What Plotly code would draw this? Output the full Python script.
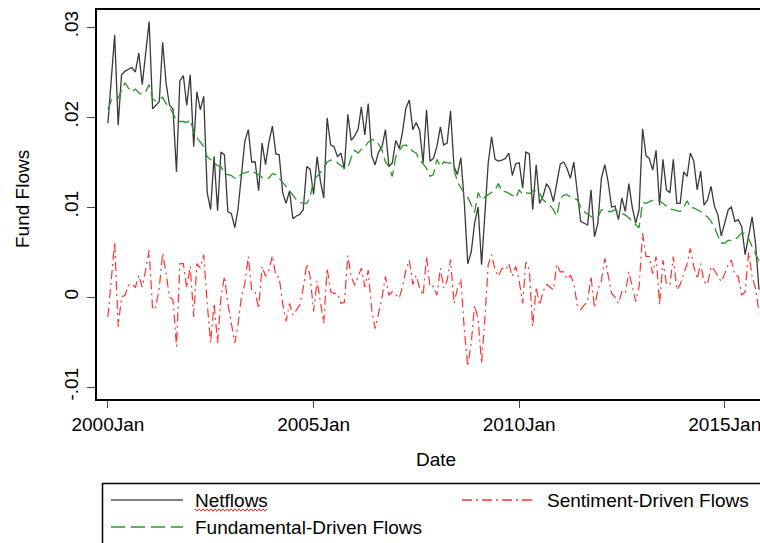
import pandas as pd
import plotly.graph_objects as go

# ---------------- data (monthly, starting 2000Jan) ----------------
netflows = [
    .0193, .0240, .0291, .0191, .0247, .0251, .0253, .0255, .0250, .0271, .0236, .0268,   # 2000
    .0306, .0209, .0213, .0217, .0283, .0237, .0213, .0209, .0139, .0240, .0246, .0213,   # 2001
    .0247, .0167, .0228, .0208, .0223, .0116, .0097, .0156, .0096, .0161, .0158, .0095,   # 2002
    .0093, .0077, .0097, .0140, .0173, .0186, .0150, .0150, .0118, .0171, .0147, .0172,   # 2003
    .0190, .0159, .0158, .0116, .0104, .0118, .0087, .0090, .0092, .0097, .0145, .0142,   # 2004
    .0114, .0156, .0130, .0110, .0199, .0169, .0167, .0156, .0160, .0142, .0203, .0174,   # 2005
    .0179, .0187, .0211, .0180, .0215, .0157, .0147, .0161, .0167, .0186, .0145, .0149,   # 2006
    .0174, .0165, .0183, .0210, .0219, .0186, .0194, .0185, .0149, .0208, .0151, .0154,   # 2007
    .0167, .0189, .0169, .0171, .0207, .0145, .0136, .0155, .0104, .0037, .0050, .0082,   # 2008
    .0100, .0036, .0089, .0149, .0178, .0153, .0151, .0152, .0154, .0160, .0135, .0148,   # 2009
    .0149, .0121, .0161, .0159, .0097, .0147, .0104, .0112, .0126, .0120, .0106, .0129,   # 2010
    .0148, .0150, .0143, .0132, .0150, .0117, .0084, .0082, .0080, .0119, .0067, .0082,   # 2011
    .0132, .0147, .0128, .0100, .0101, .0086, .0110, .0095, .0126, .0100, .0082, .0097,   # 2012
    .0187, .0157, .0154, .0141, .0163, .0102, .0153, .0119, .0116, .0153, .0104, .0104,   # 2013
    .0139, .0134, .0160, .0151, .0119, .0140, .0102, .0108, .0123, .0101, .0091, .0068,   # 2014
    .0082, .0097, .0100, .0084, .0086, .0078, .0047, .0067, .0089, .0060, .0008,          # 2015
]

fundamental = [
    .0208, .0219, .0218, .0221, .0230, .0238, .0232, .0228, .0231, .0227, .0225, .0228,
    .0236, .0220, .0218, .0220, .0222, .0215, .0211, .0204, .0196, .0195, .0195, .0194,
    .0197, .0184, .0177, .0172, .0167, .0156, .0153, .0150, .0146, .0145, .0137, .0136,
    .0135, .0132, .0132, .0137, .0138, .0139, .0140, .0138, .0136, .0133, .0131, .0132,
    .0137, .0136, .0132, .0128, .0123, .0118, .0113, .0108, .0105, .0104, .0104, .0111,
    .0130, .0134, .0138, .0143, .0150, .0152, .0152, .0149, .0146, .0143, .0143, .0155,
    .0163, .0160, .0164, .0167, .0172, .0175, .0174, .0170, .0163, .0150, .0145, .0134,
    .0156, .0163, .0168, .0169, .0165, .0162, .0160, .0152, .0148, .0143, .0134, .0136,
    .0153, .0145, .0150, .0149, .0149, .0142, .0128, .0121, .0115, .0111, .0102, .0094,
    .0116, .0108, .0111, .0114, .0116, .0119, .0126, .0117, .0117, .0115, .0113, .0110,
    .0119, .0114, .0116, .0115, .0118, .0118, .0116, .0108, .0105, .0102, .0097, .0090,
    .0110, .0113, .0114, .0111, .0110, .0108, .0100, .0095, .0092, .0090, .0087, .0088,
    .0097, .0096, .0095, .0095, .0097, .0094, .0093, .0091, .0088, .0084, .0080, .0077,
    .0105, .0104, .0106, .0108, .0109, .0107, .0104, .0101, .0098, .0097, .0096, .0095,
    .0100, .0107, .0099, .0099, .0097, .0095, .0092, .0089, .0084, .0078, .0068, .0060,
    .0060, .0063, .0063, .0064, .0067, .0071, .0071, .0065, .0056, .0048, .0040,
]

sentiment = [
    -.0022, .0020, .0061, -.0033, .0000, .0002, .0013, .0014, .0011, .0024, .0011, .0030,
    .0052, -.0014, -.0011, .0010, .0049, .0026, .0000, -.0003, -.0055, .0037, .0037, .0010,
    .0034, -.0022, .0037, .0032, .0047, -.0007, -.0051, -.0007, -.0051, .0000, .0023, -.0007,
    -.0029, -.0051, -.0031, .0000, .0015, .0045, .0008, .0006, -.0013, .0034, .0023, .0030,
    .0046, .0023, .0022, -.0007, -.0027, -.0007, -.0020, -.0014, -.0009, .0010, .0037, .0023,
    -.0016, .0018, -.0003, -.0029, .0032, .0006, .0004, .0004, -.0007, -.0006, .0046, .0023,
    .0013, .0024, .0032, .0011, .0030, -.0014, -.0035, -.0018, .0000, .0023, .0002, .0006,
    .0002, -.0001, .0011, .0030, .0041, .0014, .0024, .0010, .0002, .0045, .0011, .0012,
    .0002, .0032, .0010, .0018, .0042, -.0007, .0009, .0020, -.0037, -.0077, -.0051, -.0009,
    -.0024, -.0074, -.0026, .0036, .0047, .0030, .0023, .0032, .0030, .0037, .0023, .0034,
    .0018, -.0007, .0039, .0030, -.0033, .0011, -.0009, .0006, .0014, .0011, .0008, .0036,
    .0028, .0028, .0020, .0024, .0015, -.0009, -.0014, -.0009, -.0005, .0023, -.0012, .0008,
    .0018, .0043, .0026, .0004, .0000, -.0007, .0006, .0004, .0028, .0011, -.0005, .0011,
    .0071, .0045, .0045, .0026, .0045, -.0009, .0041, .0014, .0014, .0045, .0008, .0014,
    .0026, .0037, .0054, .0034, .0020, .0037, .0017, .0014, .0034, .0030, .0023, .0017,
    .0026, .0036, .0041, .0024, .0023, .0002, .0006, .0050, .0023, .0010, -.0017,
]

y_tickvals = [-0.01, 0, 0.01, 0.02, 0.03]
y_ticktext = ["-.01", "0", ".01", ".02", ".03"]

series_names = ["Netflows", "Fundamental-Driven Flows", "Sentiment-Driven Flows"]

dates = pd.date_range("2000-01-01", periods=len(netflows), freq="MS")

# ---------------- layout geometry (pixels) ----------------
W, H = 760, 543
L, R, T, B = 97, 0, 10, 144
PW, PH = W - L - R, H - T - B
FONT = "Liberation Sans, Arial, sans-serif"


def px(x):
    return (x - L) / PW


def py(y):
    return (H - B - y) / PH


fig = go.Figure()
fig.add_trace(go.Scatter(x=dates, y=netflows, mode="lines", name=series_names[0],
                         line=dict(color="#3a3a3a", width=1.3)))
fig.add_trace(go.Scatter(x=dates[:len(fundamental)], y=fundamental, mode="lines", name=series_names[1],
                         line=dict(color="rgb(40,150,40)", width=1.3, dash="11px,5px")))
fig.add_trace(go.Scatter(x=dates[:len(sentiment)], y=sentiment, mode="lines", name=series_names[2],
                         line=dict(color="rgb(255,50,50)", width=1.2, dash="9px,4px,2px,4px")))

fig.update_layout(
    width=W, height=H,
    margin=dict(l=L, r=R, t=T, b=B, pad=0),
    paper_bgcolor="white", plot_bgcolor="white",
    showlegend=False,
    font=dict(family=FONT, size=19, color="black"),
)

fig.update_xaxes(
    type="date",
    range=["1999-09-26", "2015-11-10"],
    tick0="2000-01-01", dtick="M60", tickformat="%Y%b",
    ticks="outside", ticklen=7, tickwidth=1, tickcolor="#444",
    showline=True, linecolor="black", linewidth=2, mirror=True,
    showgrid=False, zeroline=False,
    tickfont=dict(family=FONT, size=19, color="black"),
    ticklabelstandoff=0,
    ticklabeloverflow="allow",
)
fig.update_yaxes(
    range=[-0.01133, 0.03189],
    tickvals=y_tickvals, ticktext=y_ticktext, tickangle=-90,
    ticks="outside", ticklen=8, tickwidth=1, tickcolor="#444",
    showline=True, linecolor="black", linewidth=2, mirror=False,
    showgrid=False, zeroline=False,
    tickfont=dict(family=FONT, size=19, color="black"),
    ticklabelstandoff=1,
)

# axis titles
fig.add_annotation(x=px(436), y=py(459), xref="paper", yref="paper", text="Date",
                   showarrow=False, font=dict(family=FONT, size=19, color="black"),
                   xanchor="center", yanchor="middle")
fig.add_annotation(x=px(22), y=py(199), xref="paper", yref="paper", text="Fund Flows",
                   showarrow=False, textangle=-90, font=dict(family=FONT, size=19, color="black"),
                   xanchor="center", yanchor="middle")

# legend box
fig.add_shape(type="rect", xref="paper", yref="paper",
              x0=px(102.5), x1=px(820), y0=py(483.5), y1=py(620),
              line=dict(color="black", width=1.5), fillcolor="rgba(0,0,0,0)")

legend_items = [
    (series_names[0], 111, 183, 500, 194, "#808080", 2, "solid"),
    (series_names[2], 462, 535, 500, 546, "rgb(255,50,50)", 1.5, "10px,4px,2px,4px"),
    (series_names[1], 111, 183, 527, 194, "rgb(40,150,40)", 1.5, "14px,6px"),
]
for name, lx0, lx1, ly, tx, col, wid, dash in legend_items:
    fig.add_shape(type="line", xref="paper", yref="paper",
                  x0=px(lx0), x1=px(lx1), y0=py(ly), y1=py(ly),
                  line=dict(color=col, width=wid, dash=dash))
    fig.add_annotation(x=px(tx), y=py(ly), xref="paper", yref="paper", text=name,
                       showarrow=False, font=dict(family=FONT, size=19, color="black"),
                       xanchor="left", yanchor="middle", borderpad=0)

# red wavy spell-check underline under "Netflows"
wave = []
xw = 195.0
k = 0
while xw <= 267:
    yw = 510 + (1.2 if k % 2 else -1.2)
    wave.append(f"{'M' if k == 0 else 'L'}{px(xw):.5f},{py(yw):.5f}")
    xw += 2.0
    k += 1
fig.add_shape(type="path", xref="paper", yref="paper", path=" ".join(wave),
              line=dict(color="rgb(230,40,40)", width=1))

fig.write_html("out.html")
